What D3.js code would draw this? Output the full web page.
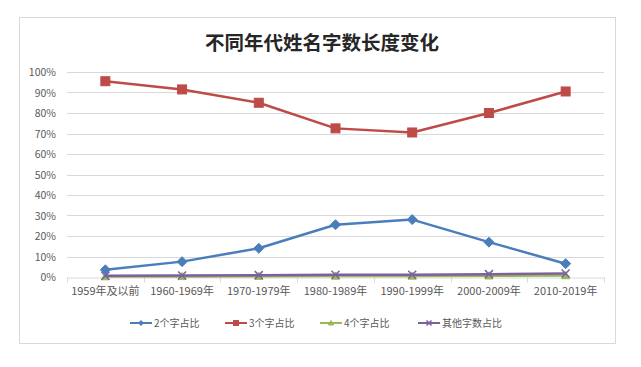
<!DOCTYPE html>
<html>
<head>
<meta charset="utf-8">
<script src="https://cdn.jsdelivr.net/npm/d3@7"></script>
<style>
  body { margin: 0; background: #fff; }
  svg { display: block; }
</style>
</head>
<body>
<svg id="chart"></svg>
<script>
const width = 641, height = 367;

const categories = ['1959年及以前', '1960-1969年', '1970-1979年', '1980-1989年', '1990-1999年', '2000-2009年', '2010-2019年'];
const seriesNames = ['2个字占比', '3个字占比', '4个字占比', '其他字数占比'];
const twoChar = [3.5, 7.5, 14, 25.5, 28, 17, 6.5];
const threeChar = [95.5, 91.5, 85, 72.5, 70.5, 80, 90.5];
const fourChar = [0.2, 0.3, 0.4, 0.5, 0.5, 0.6, 0.7];
const otherChar = [0.6, 0.7, 0.9, 1.1, 1.1, 1.4, 1.7];
const yTicks = [0, 10, 20, 30, 40, 50, 60, 70, 80, 90, 100];
const colors = ['#4a7ebb', '#be4b48', '#98b954', '#7d60a0'];
const markers = ['diamond', 'square', 'triangle', 'cross'];

const font = '"Microsoft YaHei", "Noto Sans CJK SC", sans-serif';
const textColor = '#595959';

const svg = d3.select('#chart').attr('width', width).attr('height', height);

// chart frame
svg.append('rect')
    .attr('x', 19.5).attr('y', 17.5)
    .attr('width', 596).attr('height', 326)
    .attr('fill', '#fff')
    .attr('stroke', '#d9d9d9');

svg.append('text')
    .attr('x', 322).attr('y', 50)
    .attr('text-anchor', 'middle')
    .attr('font-family', font)
    .attr('font-size', 19.5)
    .attr('font-weight', 'bold')
    .attr('fill', '#262626')
    .text('不同年代姓名字数长度变化');

const plot = { left: 67, right: 604, top: 72, bottom: 277 };

const x = d3.scaleBand().domain(categories).range([plot.left, plot.right]);
const y = d3.scaleLinear().domain([0, 100]).range([plot.bottom, plot.top]);

// gridlines
svg.append('g')
    .selectAll('line')
    .data(yTicks.slice(1))
    .join('line')
    .attr('x1', plot.left).attr('x2', plot.right)
    .attr('y1', (d) => Math.round(y(d)) + 0.5)
    .attr('y2', (d) => Math.round(y(d)) + 0.5)
    .attr('stroke', '#d9d9d9');

// y axis labels
svg.append('g')
    .selectAll('text')
    .data(yTicks)
    .join('text')
    .attr('x', 56)
    .attr('y', (d) => y(d) + 4)
    .attr('text-anchor', 'end')
    .attr('font-family', font)
    .attr('font-size', 10.5)
    .attr('fill', textColor)
    .text((d) => d + '%');

// x axis line with tick marks between categories
const xAxis = d3.axisBottom(x).tickSize(0).tickPadding(10);
const gx = svg.append('g')
    .attr('transform', 'translate(0,' + (Math.round(y(0)) + 0.5) + ')')
    .call(xAxis);
gx.select('.domain').attr('stroke', '#d9d9d9');
gx.selectAll('text')
    .attr('font-family', font)
    .attr('font-size', 11)
    .attr('fill', textColor);

const bounds = categories.map((c) => x(c)).concat([plot.right]);
gx.append('g')
    .selectAll('line')
    .data(bounds)
    .join('line')
    .attr('x1', (d) => Math.round(d) + 0.5).attr('x2', (d) => Math.round(d) + 0.5)
    .attr('y1', 0).attr('y2', 5)
    .attr('stroke', '#d9d9d9');

const cx = (i) => x(categories[i]) + x.bandwidth() / 2;
const line = d3.line().x((d, i) => cx(i)).y((d) => y(d));

function marker(g, type, color, size) {
    const s = size / 2;
    if (type === 'diamond') {
        g.append('path').attr('d', `M0,${-s}L${s},0L0,${s}L${-s},0Z`)
            .attr('fill', color).attr('stroke', color);
    } else if (type === 'square') {
        g.append('rect').attr('x', -s).attr('y', -s)
            .attr('width', size).attr('height', size)
            .attr('fill', color).attr('stroke', color);
    } else if (type === 'triangle') {
        g.append('path').attr('d', `M0,${-s}L${s},${s * 0.8}L${-s},${s * 0.8}Z`)
            .attr('fill', color).attr('stroke', color);
    } else {
        g.append('path').attr('d', `M${-s},${-s}L${s},${s}M${-s},${s}L${s},${-s}`)
            .attr('stroke', color).attr('stroke-width', 1.5).attr('fill', 'none');
    }
}

const allSeries = [twoChar, threeChar, fourChar, otherChar];
const markerSize = [10, 9, 8, 8];

// draw in this order so blue/red end on top
[2, 3, 0, 1].forEach((k) => {
    const data = allSeries[k];
    svg.append('path')
        .datum(data)
        .attr('d', line)
        .attr('fill', 'none')
        .attr('stroke', colors[k])
        .attr('stroke-width', 2.5)
        .attr('stroke-linejoin', 'round');
    data.forEach((v, i) => {
        const g = svg.append('g').attr('transform', `translate(${cx(i)},${y(v)})`);
        marker(g, markers[k], colors[k], markerSize[k]);
    });
});

// legend
const legendX = [130, 225, 320, 418];
const legend = svg.append('g').attr('transform', 'translate(0,323)');
seriesNames.forEach((name, k) => {
    const g = legend.append('g').attr('transform', `translate(${legendX[k]},0)`);
    g.append('line').attr('x1', 0).attr('x2', 22).attr('y1', 0).attr('y2', 0)
        .attr('stroke', colors[k]).attr('stroke-width', 2);
    const m = g.append('g').attr('transform', 'translate(11,0)');
    marker(m, markers[k], colors[k], 5);
    g.append('text')
        .attr('x', 24).attr('y', 3.5)
        .attr('font-family', font)
        .attr('font-size', 10)
        .attr('fill', textColor)
        .text(name);
});
</script>
</body>
</html>
